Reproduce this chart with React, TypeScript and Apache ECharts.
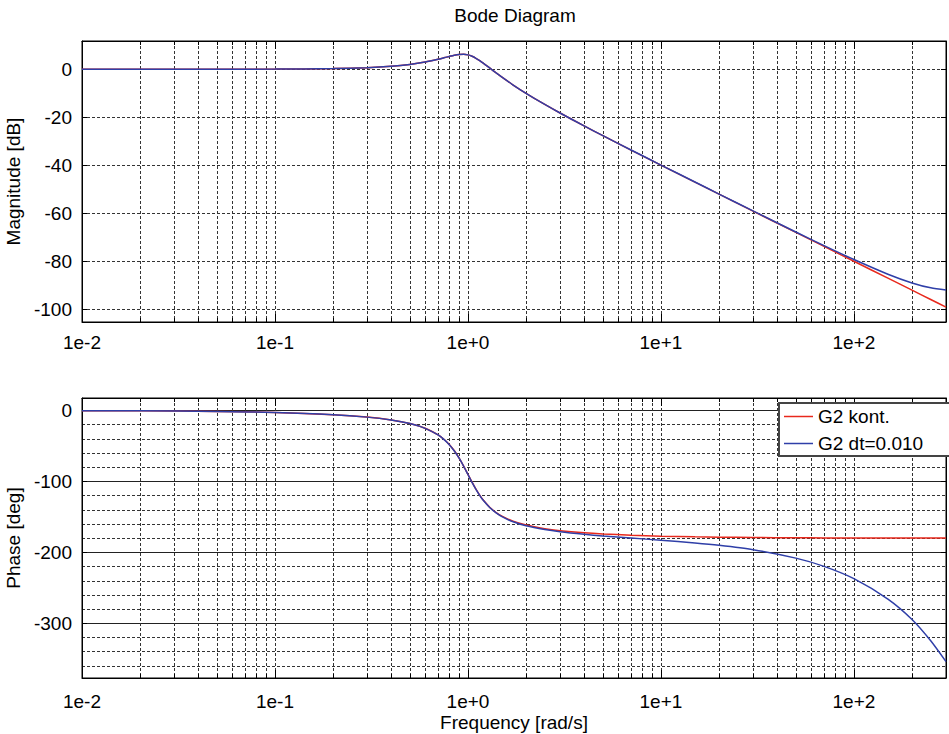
import React, { useEffect, useRef } from "react";
import * as echarts from "echarts";

// Frequencies [rad/s]
const freqs = [
  0.01, 0.02, 0.05, 0.1, 0.2, 0.3, 0.4, 0.5, 0.6, 0.7, 0.75, 0.8, 0.85, 0.9, 0.95, 1.0, 1.05, 1.1, 1.15, 1.2,
  1.3, 1.4, 1.5, 1.7, 2, 2.5, 3, 4, 5, 7, 10, 15, 20, 30, 50, 70, 100, 150, 200, 250, 300,
];
// Magnitude [dB], continuous system
const magCont = [
  0.0, 0.0, 0.02, 0.08, 0.31, 0.7, 1.27, 2.04, 3.01, 4.17, 4.79, 5.38, 5.89, 6.22, 6.29, 6.02, 5.43, 4.6, 3.62, 2.57,
  0.46, -1.5, -3.27, -6.33, -10.0, -14.64, -18.21, -23.6, -27.65, -33.65, -39.92, -47.01, -52.02, -59.08, -67.96,
  -73.8, -80.0, -87.04, -92.04, -95.92, -99.08,
];
// Magnitude [dB], discrete system dt=0.010
const magDisc = [
  0.0, 0.0, 0.02, 0.08, 0.31, 0.7, 1.27, 2.04, 3.01, 4.17, 4.79, 5.38, 5.89, 6.22, 6.29, 6.02, 5.43, 4.6, 3.62, 2.57,
  0.46, -1.5, -3.27, -6.33, -10.0, -14.64, -18.2, -23.59, -27.63, -33.62, -39.9, -46.95, -51.99, -59.01, -67.79,
  -73.45, -79.27, -85.39, -89.02, -91.07, -91.94,
];
// Phase [deg], continuous system
const phaseCont = [
  -0.29, -0.57, -1.44, -2.89, -5.95, -9.36, -13.39, -18.43, -25.11, -34.46, -40.6, -48.01, -56.85, -67.11, -78.4,
  -90.0, -101.05, -110.9, -119.29, -126.25, -136.71, -143.9, -149.04, -155.79, -161.57, -166.61, -169.38, -172.41,
  -174.05, -175.83, -177.11, -178.08, -178.56, -179.04, -179.43, -179.59, -179.71, -179.81, -179.86, -179.89, -179.9,
];
// Phase [deg], discrete system dt=0.010
const phaseDisc = [
  -0.29, -0.57, -1.45, -2.92, -6.0, -9.45, -13.5, -18.55, -25.25, -34.6, -40.8, -48.2, -57.1, -67.35, -78.65,
  -90.3, -101.35, -111.2, -119.6, -126.6, -137.1, -144.4, -149.6, -156.6, -162.6, -167.9, -171.0, -174.6, -176.9,
  -179.8, -182.9, -186.7, -190.0, -196.2, -208.1, -219.7, -237.0, -265.8, -294.5, -324.5, -354.0,
];
// Minor log grid positions
const minorFreqs = [
  0.02, 0.03, 0.04, 0.05, 0.06, 0.07, 0.08, 0.09, 0.2, 0.3, 0.4, 0.5, 0.6, 0.7, 0.8, 0.9, 2, 3, 4, 5, 6, 7, 8, 9,
  20, 30, 40, 50, 60, 70, 80, 90, 200,
];
const seriesNames = ["G2 kont.", "G2 dt=0.010"];

const FONT = "'Liberation Sans', Arial, sans-serif";
const RED = "#e8281c";
const BLUE = "#2f3fa8";
const DASH = [3, 2];

const fmtLog = (v: number) => {
  const e = Math.log10(v);
  if (Math.abs(e - Math.round(e)) > 1e-6) return "";
  const r = Math.round(e);
  return "1e" + (r >= 0 ? "+" : "") + r;
};

export default function App() {
  const ref = useRef<HTMLDivElement>(null);
  useEffect(() => {
    if (!ref.current) return;
    const chart = echarts.init(ref.current, undefined, { renderer: "svg" });

    const xMain = (gi: number, margin: number, name?: string) => ({
      type: "log",
      logBase: 10,
      gridIndex: gi,
      min: 0.01,
      max: 300,
      position: "bottom",
      axisLine: { show: true, onZero: false, lineStyle: { color: "#000", width: 1 } },
      axisTick: { show: true, inside: true, length: 8, lineStyle: { color: "#000" } },
      axisLabel: { show: true, formatter: fmtLog, fontSize: 19, color: "#000", fontFamily: FONT, margin, showMaxLabel: false },
      splitLine: { show: true, lineStyle: { color: "#333", type: DASH, width: 1 } },
      name: name || "",
      nameLocation: "middle",
      nameGap: 35,
      nameTextStyle: { fontSize: 19, color: "#000", fontFamily: FONT },
    });
    const xTop = (gi: number) => ({
      type: "log",
      logBase: 10,
      gridIndex: gi,
      min: 0.01,
      max: 300,
      position: "top",
      axisLine: { show: true, onZero: false, lineStyle: { color: "#000", width: 1 } },
      axisTick: { show: true, inside: true, length: 8, lineStyle: { color: "#000" } },
      axisLabel: { show: false },
      splitLine: { show: false },
    });

    const minorSeries = (gi: number) => ({
      type: "custom",
      xAxisIndex: gi * 2,
      yAxisIndex: gi * 2,
      silent: true,
      z: 1,
      data: minorFreqs.map((f) => [f, 0]),
      renderItem: (params: any, api: any) => {
        const cs = params.coordSys;
        const x = Math.round(api.coord([api.value(0), 0])[0]) + 0.5;
        return {
          type: "group",
          children: [
            { type: "line", shape: { x1: x, y1: cs.y, x2: x, y2: cs.y + cs.height }, style: { stroke: "#333", lineWidth: 1, lineDash: DASH } },
            { type: "line", shape: { x1: x, y1: cs.y, x2: x, y2: cs.y + 4 }, style: { stroke: "#000", lineWidth: 1 } },
            { type: "line", shape: { x1: x, y1: cs.y + cs.height, x2: x, y2: cs.y + cs.height - 4 }, style: { stroke: "#000", lineWidth: 1 } },
          ],
        };
      },
    });

    const lineSeries = (name: string, gi: number, ys: number[], color: string) => ({
      type: "line",
      name,
      xAxisIndex: gi * 2,
      yAxisIndex: gi * 2,
      data: freqs.map((f, i) => [f, ys[i]]),
      showSymbol: false,
      symbol: "none",
      smooth: 0.25,
      lineStyle: { color, width: 1.5 },
      itemStyle: { color },
      z: 3,
    });

    const option: any = {
      animation: false,
      backgroundColor: "#fff",
      textStyle: { fontFamily: FONT },
      graphic: [
        {
          type: "text",
          x: 515,
          y: 15,
          style: { text: "Bode Diagram", fontSize: 19, fill: "#000", fontFamily: FONT, align: "center", verticalAlign: "middle" },
        },
      ],
      legend: {
        data: seriesNames.map((n) => ({ name: n, icon: "rect" })),
        orient: "vertical",
        left: 779,
        top: 403,
        padding: [4, 30, 3, 5],
        itemGap: 8,
        itemWidth: 29,
        itemHeight: 1.5,
        backgroundColor: "#fff",
        borderColor: "#444",
        borderWidth: 2,
        textStyle: { fontSize: 19, color: "#000", fontFamily: FONT },
        z: 10,
      },
      grid: [
        { left: 82, top: 41, width: 864, height: 281, show: true, borderColor: "#000", borderWidth: 1, outerBoundsMode: "none", containLabel: false },
        { left: 82, top: 398, width: 864, height: 280, show: true, borderColor: "#000", borderWidth: 1, outerBoundsMode: "none", containLabel: false },
      ],
      xAxis: [xMain(0, 11), xTop(0), xMain(1, 14, "Frequency [rad/s]"), xTop(1)],
      yAxis: [
        {
          type: "value",
          gridIndex: 0,
          min: -105.3,
          max: 11.8,
          splitNumber: 5,
          position: "left",
          axisLine: { show: true, onZero: false, lineStyle: { color: "#000" } },
          axisTick: { show: true, inside: true, length: 5, lineStyle: { color: "#000" } },
          axisLabel: {
            fontSize: 19,
            color: "#000",
            fontFamily: FONT,
            margin: 10,
            padding: [5, 0, 0, 0],
            showMinLabel: false,
            showMaxLabel: false,
            formatter: (v: number) => (Math.abs(v % 20) < 1e-6 ? String(v) : ""),
          },
          splitLine: { show: true, lineStyle: { color: "#333", type: DASH, width: 1 } },
          name: "Magnitude [dB]",
          nameLocation: "middle",
          nameGap: 56,
          nameTextStyle: { fontSize: 19, color: "#000", fontFamily: FONT },
        },
        {
          type: "value",
          gridIndex: 0,
          min: -105.3,
          max: 11.8,
          splitNumber: 5,
          position: "right",
          axisLine: { show: true, onZero: false, lineStyle: { color: "#000" } },
          axisTick: { show: true, inside: true, length: 5, lineStyle: { color: "#000" } },
          axisLabel: { show: false },
          splitLine: { show: false },
        },
        {
          type: "value",
          gridIndex: 1,
          min: -377,
          max: 17.5,
          splitNumber: 4,
          position: "left",
          axisLine: { show: true, onZero: false, lineStyle: { color: "#000" } },
          axisTick: { show: true, inside: true, length: 5, lineStyle: { color: "#000" } },
          minorTick: { show: false, splitNumber: 5 },
          minorSplitLine: { show: true, lineStyle: { color: "#333", type: DASH, width: 1 } },
          axisLabel: {
            fontSize: 19,
            color: "#000",
            fontFamily: FONT,
            margin: 10,
            padding: [5, 0, 0, 0],
            showMinLabel: false,
            showMaxLabel: false,
            formatter: (v: number) => (Math.abs(v % 100) < 1e-6 ? String(v) : ""),
          },
          splitLine: { show: true, lineStyle: { color: "#222", type: "solid", width: 1 } },
          name: "Phase [deg]",
          nameLocation: "middle",
          nameGap: 56,
          nameTextStyle: { fontSize: 19, color: "#000", fontFamily: FONT },
        },
        {
          type: "value",
          gridIndex: 1,
          min: -377,
          max: 17.5,
          splitNumber: 4,
          position: "right",
          axisLine: { show: true, onZero: false, lineStyle: { color: "#000" } },
          axisTick: { show: true, inside: true, length: 5, lineStyle: { color: "#000" } },
          axisLabel: { show: false },
          splitLine: { show: false },
        },
      ],
      series: [
        minorSeries(0),
        minorSeries(1),
        lineSeries(seriesNames[0], 0, magCont, RED),
        lineSeries(seriesNames[1], 0, magDisc, BLUE),
        lineSeries(seriesNames[0], 1, phaseCont, RED),
        lineSeries(seriesNames[1], 1, phaseDisc, BLUE),
      ],
    };
    chart.setOption(option);
    return () => chart.dispose();
  }, []);

  return <div ref={ref} style={{ position: "fixed", left: 0, top: 0, width: 949, height: 734, background: "#fff" }} />;
}
